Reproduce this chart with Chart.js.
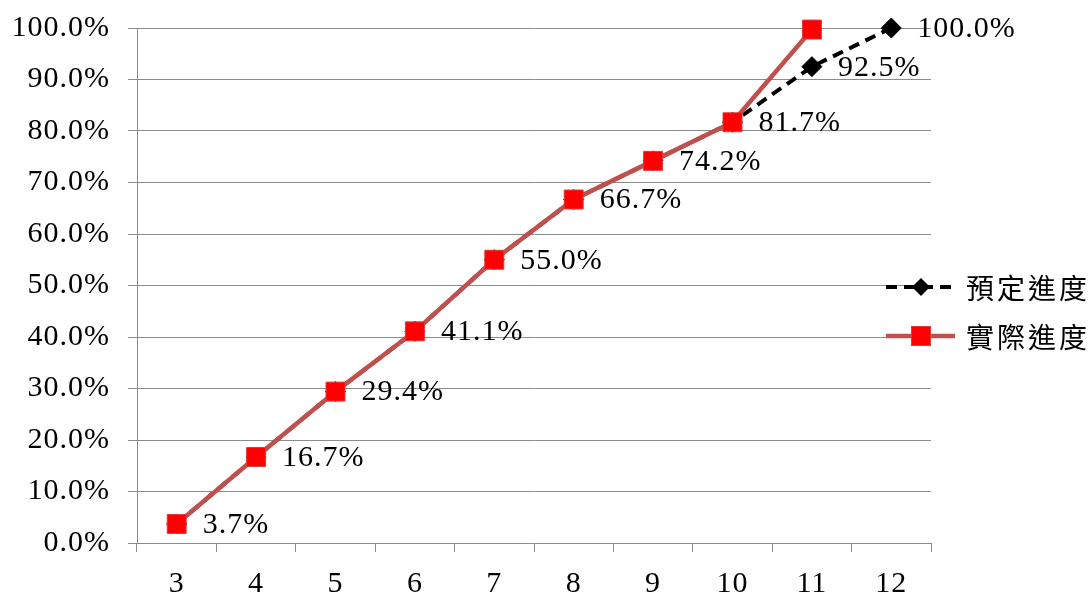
<!DOCTYPE html>
<html>
<head>
<meta charset="utf-8">
<script src="https://cdn.jsdelivr.net/npm/chart.js@4/dist/chart.umd.min.js"></script>
<style>
html,body{margin:0;padding:0;background:#fff;}
#wrap{width:1092px;height:592px;position:relative;}
</style>
</head>
<body>
<div id="wrap"><canvas id="c" width="1092" height="592"></canvas></div>
<script>
const categories = ['3','4','5','6','7','8','9','10','11','12'];
const plannedName = '預定進度';
const actualName = '實際進度';
const plannedValues = [3.7, 16.7, 29.4, 41.1, 55.0, 66.7, 74.2, 81.7, 92.5, 100.0];
const actualValues = [3.7, 16.7, 29.4, 41.1, 55.0, 66.7, 74.2, 81.7, 99.7, null];
const yTickMin = 0, yTickMax = 100, yTickStep = 10;

const SERIF = '"Liberation Serif", "Times New Roman", serif';
const CJK = '"Noto Sans CJK TC", "Noto Sans CJK SC", sans-serif';
const GRID = '#8c8c8c';
const RED_LINE = '#C0504D';
const RED_FILL = '#FF0000';

const spacingPlugin = {
  id: 'spacing',
  beforeDraw(chart) { chart.ctx.letterSpacing = '1px'; }
};

const labelPlugin = {
  id: 'labelsAndLegend',
  afterDatasetsDraw(chart) {
    const ctx = chart.ctx;
    const meta = chart.getDatasetMeta(0);
    ctx.save();
    ctx.letterSpacing = '1px';
    ctx.font = '30px ' + SERIF;
    ctx.fillStyle = '#000';
    ctx.textAlign = 'left';
    ctx.textBaseline = 'middle';
    meta.data.forEach((pt, i) => {
      const v = plannedValues[i];
      ctx.fillText(v.toFixed(1) + '%', pt.x + 26, pt.y + 1);
    });
    ctx.restore();

    // legend
    ctx.save();
    ctx.letterSpacing = '0px';
    const x0 = 886, x1 = 955, mx = 921;
    const rows = [
      {y: 287, name: plannedName, type: 'planned'},
      {y: 336, name: actualName, type: 'actual'}
    ];
    rows.forEach(r => {
      if (r.type === 'planned') {
        ctx.strokeStyle = '#000';
        ctx.lineWidth = 4;
        ctx.setLineDash([11, 7]);
        ctx.beginPath(); ctx.moveTo(x0, r.y); ctx.lineTo(x1, r.y); ctx.stroke();
        ctx.setLineDash([]);
        ctx.fillStyle = '#000';
        ctx.beginPath();
        ctx.moveTo(mx, r.y - 9); ctx.lineTo(mx + 9, r.y); ctx.lineTo(mx, r.y + 9); ctx.lineTo(mx - 9, r.y);
        ctx.closePath(); ctx.fill();
      } else {
        ctx.strokeStyle = RED_LINE;
        ctx.lineWidth = 4.5;
        ctx.beginPath(); ctx.moveTo(x0, r.y); ctx.lineTo(x1, r.y); ctx.stroke();
        ctx.fillStyle = RED_FILL;
        ctx.fillRect(mx - 9.5, r.y - 9.5, 19, 19);
        ctx.strokeStyle = '#E03A3A';
        ctx.lineWidth = 1;
        ctx.strokeRect(mx - 9.5, r.y - 9.5, 19, 19);
      }
      ctx.fillStyle = '#000';
      ctx.font = '28px ' + CJK;
      ctx.textBaseline = 'middle';
      ctx.textAlign = 'left';
      const chars = Array.from(r.name);
      chars.forEach((ch, k) => ctx.fillText(ch, 966 + k * 31, r.y + 1));
    });
    ctx.restore();
  }
};

new Chart(document.getElementById('c'), {
  type: 'line',
  data: {
    labels: categories,
    datasets: [
      {
        label: plannedName,
        data: plannedValues,
        borderColor: '#000',
        backgroundColor: '#000',
        borderWidth: 4,
        borderDash: [11, 7],
        pointStyle: 'rectRot',
        pointRadius: 10,
        pointBorderWidth: 1,
        pointBackgroundColor: '#000',
        pointBorderColor: '#000',
        tension: 0,
        clip: false,
        order: 1
      },
      {
        label: actualName,
        data: actualValues,
        borderColor: RED_LINE,
        backgroundColor: RED_FILL,
        borderWidth: 4.5,
        pointStyle: 'rect',
        pointRadius: 13.4,
        pointBorderWidth: 1,
        pointBackgroundColor: RED_FILL,
        pointBorderColor: '#E03A3A',
        tension: 0,
        spanGaps: false,
        clip: false,
        order: 0
      }
    ]
  },
  options: {
    responsive: false,
    animation: false,
    devicePixelRatio: 1,
    layout: {autoPadding: false, padding: {left: 0, right: 161, top: 28, bottom: 0}},
    plugins: {legend: {display: false}, tooltip: {enabled: false}},
    scales: {
      x: {
        type: 'category',
        offset: true,
        afterFit(s) { s.height = 49; s.paddingLeft = 0; s.paddingRight = 0; },
        grid: {
          offset: true,
          drawOnChartArea: false,
          drawTicks: true,
          tickLength: 9,
          color: GRID,
          lineWidth: 1
        },
        border: {display: true, color: GRID, width: 1},
        ticks: {
          color: '#000',
          font: {family: SERIF, size: 30},
          padding: 14,
          maxRotation: 0,
          autoSkip: false
        }
      },
      y: {
        min: yTickMin,
        max: yTickMax,
        afterFit(s) { s.width = 137; s.paddingTop = 0; s.paddingBottom = 0; },
        grid: {
          color: GRID,
          lineWidth: 1,
          drawTicks: true,
          tickLength: 9
        },
        border: {display: true, color: GRID, width: 1},
        ticks: {
          stepSize: yTickStep,
          color: '#000',
          font: {family: SERIF, size: 30},
          padding: 18,
          callback: v => v.toFixed(1) + '%'
        }
      }
    }
  },
  plugins: [spacingPlugin, labelPlugin]
});
</script>
</body>
</html>
